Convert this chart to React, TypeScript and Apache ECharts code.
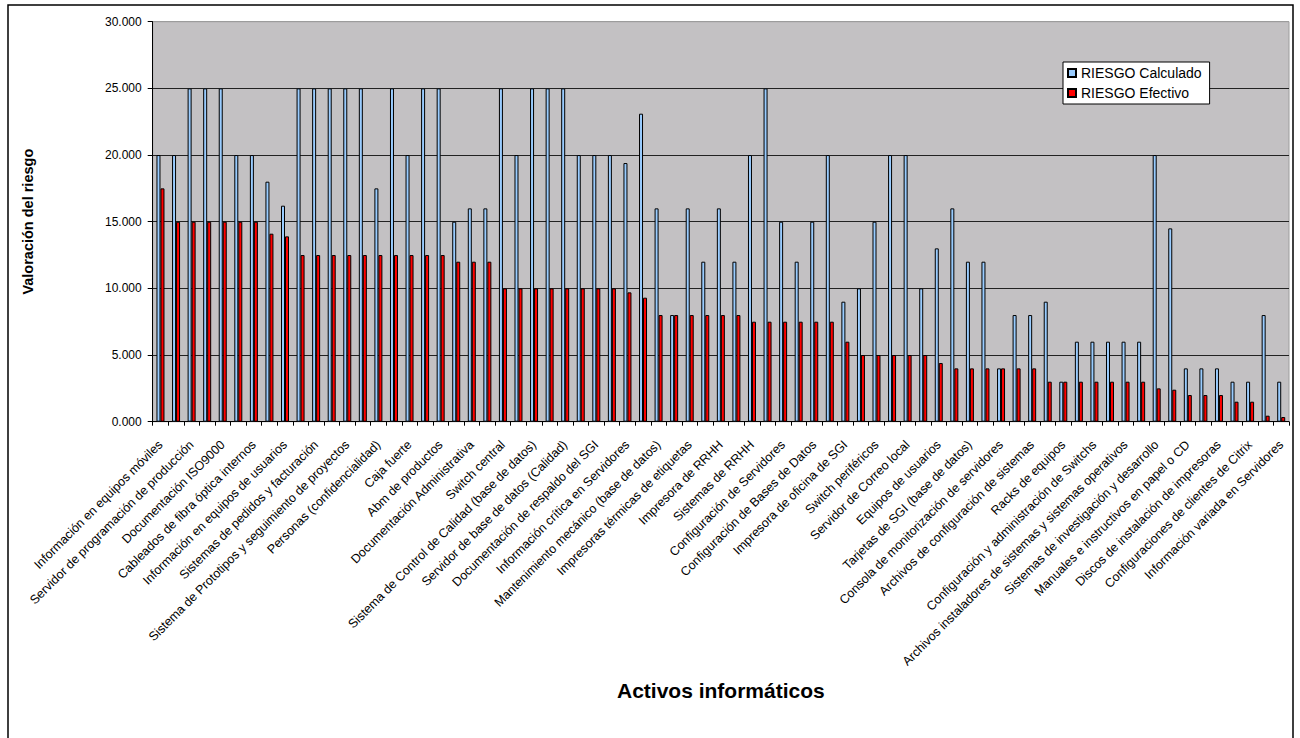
import React, { useEffect, useRef } from "react";
import * as echarts from "echarts";

// 73 assets; only every other name is printed on the axis, the others are unreadable ("")
const categories: string[] = [
  "Información en equipos móviles", "",
  "Servidor de programación de producción", "",
  "Documentación ISO9000", "",
  "Cableados de fibra óptica internos", "",
  "Información en equipos de usuarios", "",
  "Sistemas de pedidos y facturación", "",
  "Sistema de Prototipos y seguimiento de proyectos", "",
  "Personas (confidencialidad)", "",
  "Caja fuerte", "",
  "Abm de productos", "",
  "Documentación Administrativa", "",
  "Switch central", "",
  "Sistema de Control de Calidad (base de datos)", "",
  "Servidor de base de datos (Calidad)", "",
  "Documentación de respaldo del SGI", "",
  "Información crítica en Servidores", "",
  "Mantenimiento mecánico (base de datos)", "",
  "Impresoras térmicas de etiquetas", "",
  "Impresora de RRHH", "",
  "Sistemas de RRHH", "",
  "Configuración de Servidores", "",
  "Configuración de Bases de Datos", "",
  "Impresora de oficina de SGI", "",
  "Switch periféricos", "",
  "Servidor de Correo local", "",
  "Equipos de usuarios", "",
  "Tarjetas de SGI (base de datos)", "",
  "Consola de monitorización de servidores", "",
  "Archivos de configuración de sistemas", "",
  "Racks de equipos", "",
  "Configuración y administración de Switchs", "",
  "Archivos instaladores de sistemas y sistemas operativos", "",
  "Sistemas de investigación y desarrollo", "",
  "Manuales e instructivos en papel o CD", "",
  "Discos de instalación de impresoras", "",
  "Configuraciones de clientes de Citrix", "",
  "Información variada en Servidores",
];

const riesgoCalculado: number[] = [
  20, 20, 25, 25, 25, 20, 20, 18, 16.2, 25,
  25, 25, 25, 25, 17.5, 25, 20, 25, 25, 15,
  16, 16, 25, 20, 25, 25, 25, 20, 20, 20,
  19.4, 23.1, 16, 8, 16, 12, 16, 12, 20, 25,
  15, 12, 15, 20, 9, 10, 15, 20, 20, 10,
  13, 16, 12, 12, 4, 8, 8, 9, 3, 6,
  6, 6, 6, 6, 20, 14.5, 4, 4, 4, 3,
  3, 8, 3,
];

const riesgoEfectivo: number[] = [
  17.5, 15, 15, 15, 15, 15, 15, 14.1, 13.9, 12.5,
  12.5, 12.5, 12.5, 12.5, 12.5, 12.5, 12.5, 12.5, 12.5, 12,
  12, 12, 10, 10, 10, 10, 10, 10, 10, 10,
  9.7, 9.3, 8, 8, 8, 8, 8, 8, 7.5, 7.5,
  7.5, 7.5, 7.5, 7.5, 6, 5, 5, 5, 5, 5,
  4.4, 4, 4, 4, 4, 4, 4, 3, 3, 3,
  3, 3, 3, 3, 2.5, 2.4, 2, 2, 2, 1.5,
  1.5, 0.45, 0.35,
];

const seriesNames = ["RIESGO Calculado", "RIESGO Efectivo"];
const yTitle = "Valoración del riesgo";
const xTitle = "Activos informáticos";

const FONT = 'Arial, "Liberation Sans", sans-serif';

export default function App() {
  const ref = useRef<HTMLDivElement>(null);
  useEffect(() => {
    if (!ref.current) return;
    const chart = echarts.init(ref.current, null, { renderer: "svg" });
    chart.setOption({
      animation: false,
      backgroundColor: "#ffffff",
      textStyle: { fontFamily: FONT },
      graphic: [
        {
          type: "rect",
          shape: { x: 8, y: 5, width: 1285, height: 800 },
          style: { fill: "none", stroke: "#000", lineWidth: 1.5 },
          silent: true,
          z: 100,
        },
      ],
      grid: {
        left: 152.7,
        right: 11,
        top: 21.7,
        bottom: 316.3,
        show: true,
        backgroundColor: "#C3C1C3",
        borderColor: "#9c9c9c",
        borderWidth: 1,
      },
      legend: {
        orient: "vertical",
        left: 1063,
        top: 62,
        backgroundColor: "#ffffff",
        borderColor: "#000",
        borderWidth: 1,
        padding: [4, 8, 4, 4],
        itemGap: 6,
        itemWidth: 8,
        itemHeight: 8,
        icon: "rect",
        textStyle: { fontFamily: FONT, fontSize: 14, color: "#000", lineHeight: 14 },
        data: seriesNames,
      },
      xAxis: {
        type: "category",
        data: categories,
        name: xTitle,
        nameLocation: "middle",
        nameGap: 258,
        nameTextStyle: { fontFamily: FONT, fontSize: 21, fontWeight: "bold", color: "#000" },
        axisLine: { show: true, lineStyle: { color: "#000", width: 1 } },
        axisTick: { show: true, interval: 0, length: 4, lineStyle: { color: "#000" } },
        axisLabel: {
          interval: 1,
          rotate: 45,
          margin: 21,
          fontFamily: FONT,
          fontSize: 12.5,
          color: "#000",
        },
        splitLine: { show: false },
      },
      yAxis: {
        type: "value",
        min: 0,
        max: 30,
        interval: 5,
        name: yTitle,
        nameLocation: "middle",
        nameRotate: 90,
        nameGap: 117,
        nameTextStyle: { fontFamily: FONT, fontSize: 14.5, fontWeight: "bold", color: "#000" },
        axisLine: { show: true, lineStyle: { color: "#000", width: 1 } },
        axisTick: { show: true, length: 5, lineStyle: { color: "#000" } },
        axisLabel: {
          margin: 11,
          fontFamily: FONT,
          fontSize: 12,
          color: "#000",
          formatter: (v: number) => v.toFixed(3),
        },
        splitLine: {
          show: true,
          lineStyle: {
            color: ["#222", "#222", "#222", "#222", "#222", "#222", "#9c9c9c"],
            width: 1,
          },
        },
      },
      series: [
        {
          name: seriesNames[0],
          type: "bar",
          data: riesgoCalculado,
          barWidth: 4,
          barGap: "0%",
          itemStyle: { color: "#99CCFF", borderColor: "#000", borderWidth: 1 },
        },
        {
          name: seriesNames[1],
          type: "bar",
          data: riesgoEfectivo,
          barWidth: 4,
          barGap: "0%",
          itemStyle: { color: "#FF0000", borderColor: "#000", borderWidth: 1 },
        },
      ],
    });
    return () => chart.dispose();
  }, []);
  return (
    <div
      ref={ref}
      style={{ position: "fixed", left: 0, top: 0, width: 1300, height: 738 }}
    />
  );
}
